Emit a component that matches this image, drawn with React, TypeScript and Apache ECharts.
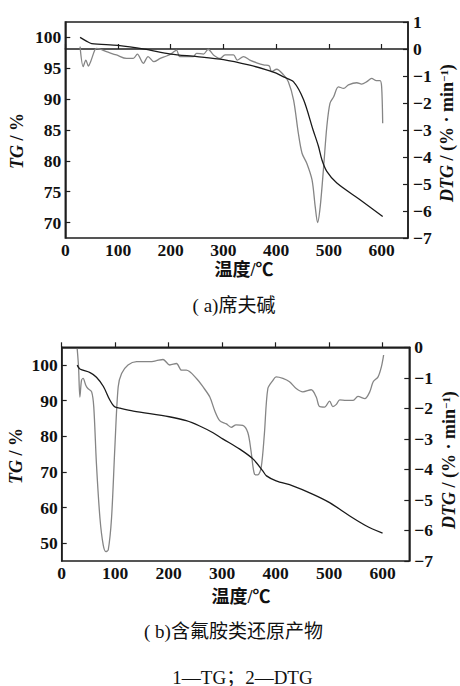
import React, { useEffect, useRef } from "react";
import * as echarts from "echarts";

// ---- Data: (a) 席夫碱 ----
const tgA_T = [28, 40, 50, 100, 150, 200, 250, 300, 350, 380, 400, 414, 433, 452, 470, 480, 487, 496, 515, 559, 602];
const tgA_V = [100, 99.4, 99.0, 98.7, 98.1, 97.3, 96.9, 96.4, 95.5, 94.8, 94.2, 93.6, 92.8, 89.9, 85.0, 82.4, 80.1, 78.3, 76.4, 73.7, 71.0];

const dtgA_T = [28, 34, 39, 43.7, 48, 56, 59.5, 78, 97, 116, 129, 136.6, 148, 157, 168, 180, 192, 202, 211, 217, 230, 243, 249, 262, 271, 281, 293.5, 303, 319, 326, 338, 350, 363, 376, 387, 391, 401, 414, 423, 433, 442, 449, 458, 468, 474, 478.5, 483.5, 490, 496, 502, 509, 518, 528, 537, 553, 562, 572, 581, 590, 597, 600, 602];
const dtgA_V = [0.09, -0.65, -0.41, -0.63, -0.47, -0.04, 0.02, -0.1, -0.22, -0.35, -0.35, -0.19, -0.53, -0.28, -0.47, -0.35, -0.26, -0.16, -0.04, -0.28, -0.28, -0.28, -0.16, -0.19, -0.01, -0.22, -0.35, -0.22, -0.22, -0.41, -0.28, -0.41, -0.51, -0.59, -0.63, -0.84, -0.75, -0.96, -1.21, -1.89, -3.12, -3.86, -4.23, -4.85, -5.84, -6.43, -5.84, -4.36, -2.88, -2.01, -1.77, -1.40, -1.46, -1.33, -1.25, -1.30, -1.21, -1.09, -1.17, -1.17, -1.40, -2.75];

// ---- Data: (b) 含氟胺类还原产物 ----
const tgB_T = [29, 34, 53, 65, 78, 90, 99, 109, 134, 201, 233, 258, 283, 301, 333, 358, 376, 383, 401, 432, 469, 501, 538, 569, 600];
const tgB_V = [100, 98.9, 97.9, 96.6, 94.0, 90.2, 88.3, 87.9, 87.1, 85.5, 84.4, 82.9, 81.0, 79.3, 76.4, 73.6, 70.3, 68.9, 67.5, 66.1, 63.8, 61.4, 57.7, 54.9, 52.8];

const dtgB_T = [29, 31.5, 34, 37, 40, 45, 49, 56, 60, 65, 71.5, 77.6, 82.6, 87, 93.2, 99.4, 105.6, 112, 124, 140, 165, 177, 189.6, 202, 214.6, 224, 233, 252, 264.4, 277, 286, 295.4, 308, 317, 326, 338.5, 348, 354, 360.6, 366.5, 373, 379, 385.5, 395, 401, 413.6, 426, 438.5, 451, 466.6, 476, 482, 491.5, 501, 507, 513.6, 520, 532, 545, 554, 567, 576, 582.5, 591.6, 597.8, 602];
const dtgB_V = [-0.05, -0.64, -1.63, -1.08, -1.02, -1.24, -1.35, -1.46, -1.96, -3.83, -5.59, -6.47, -6.69, -6.64, -5.59, -3.28, -1.30, -0.86, -0.58, -0.47, -0.47, -0.44, -0.40, -0.58, -0.53, -0.75, -0.75, -1.02, -1.30, -1.63, -2.07, -2.40, -2.51, -2.62, -2.54, -2.56, -2.79, -3.39, -4.16, -4.18, -3.94, -2.84, -1.35, -1.08, -0.97, -1.02, -1.13, -1.35, -1.46, -1.39, -1.63, -1.94, -1.96, -1.76, -1.94, -1.87, -1.72, -1.74, -1.74, -1.61, -1.68, -1.46, -1.13, -0.97, -0.64, -0.25];

// ---- Tick labels ----
const xTicks = [0, 100, 200, 300, 400, 500, 600];
const tgTicksA = [70, 75, 80, 85, 90, 95, 100];
const tgTicksB = [50, 60, 70, 80, 90, 100];

const captionA = "( a)席夫碱";
const captionB = "( b)含氟胺类还原产物";
const legendText = "1—TG；2—DTG";
const xName = "温度/℃";

const SERIF = "Liberation Serif, serif";
const MIXED = "Liberation Serif, Noto Sans CJK SC, serif";
const AX = "#1e1e1e";

const zip = (t: number[], v: number[]) => t.map((x, i) => [x, v[i]]);
const minusFmt = (v: number) => (v < 0 ? "\u2212" + Math.abs(v) : String(v));

const labelStyle = { color: "#111", fontSize: 17.5, fontWeight: "bold", fontFamily: SERIF };

function xAxisDef(gridIndex: number) {
  return {
    type: "value",
    gridIndex,
    min: 0,
    max: 650,
    axisLine: { show: true, lineStyle: { color: AX, width: 1.5 } },
    axisTick: { show: true, inside: true, length: 5, customValues: xTicks, lineStyle: { color: AX, width: 1.2 } },
    axisLabel: { ...labelStyle, customValues: xTicks, margin: 3 },
    splitLine: { show: false },
  };
}

function leftAxisDef(gridIndex: number, min: number, max: number, ticks: number[]) {
  return {
    type: "value",
    gridIndex,
    position: "left",
    min,
    max,
    axisLine: { show: true, lineStyle: { color: AX, width: 1.5 } },
    axisTick: { show: true, inside: true, length: 5, customValues: ticks, lineStyle: { color: AX, width: 1.2 } },
    axisLabel: { ...labelStyle, customValues: ticks, margin: 4 },
    splitLine: { show: false },
  };
}

function rightAxisDef(gridIndex: number, min: number, max: number) {
  return {
    type: "value",
    gridIndex,
    position: "right",
    min,
    max,
    interval: 1,
    axisLine: { show: true, lineStyle: { color: AX, width: 1.5 } },
    axisTick: { show: true, inside: true, length: 5, lineStyle: { color: AX, width: 1.2 } },
    axisLabel: { ...labelStyle, margin: 5, formatter: minusFmt },
    splitLine: { show: false },
  };
}

const richBase = {
  i: { fontStyle: "italic", fontWeight: "bold", fontFamily: SERIF, fontSize: 18, fill: "#111", lineHeight: 18 },
  n: { fontWeight: "bold", fontFamily: SERIF, fontSize: 18, fill: "#111", lineHeight: 18 },
  s: { fontWeight: "bold", fontFamily: SERIF, fontSize: 11, fill: "#111", lineHeight: 18, verticalAlign: "top", padding: [0, 0, 7, 0] },
};

function vText(x: number, y: number, text: string) {
  return {
    type: "text",
    x,
    y,
    rotation: Math.PI / 2,
    style: { text, rich: richBase, align: "center", verticalAlign: "middle", fill: "#111" },
  };
}

function hText(x: number, y: number, text: string, size: number, bold = false) {
  return {
    type: "text",
    x,
    y,
    style: {
      text,
      fill: "#111",
      fontSize: size,
      fontWeight: bold ? "bold" : "normal",
      fontFamily: MIXED,
      align: "center",
      verticalAlign: "middle",
    },
  };
}

export default function App() {
  const ref = useRef<HTMLDivElement>(null);
  useEffect(() => {
    if (!ref.current) return;
    const chart = echarts.init(ref.current, null, { renderer: "svg" });
    chart.setOption({
      animation: false,
      backgroundColor: "#ffffff",
      grid: [
        { left: 65.3, top: 22, width: 342.7, height: 216, show: true, borderColor: AX, borderWidth: 1.5, backgroundColor: "transparent" },
        { left: 61.7, top: 347.3, width: 347.6, height: 213.7, show: true, borderColor: AX, borderWidth: 1.5, backgroundColor: "transparent" },
      ],
      xAxis: [xAxisDef(0), xAxisDef(1)],
      yAxis: [
        leftAxisDef(0, 67.5, 102.5, tgTicksA),
        rightAxisDef(0, -7, 1),
        leftAxisDef(1, 45, 105, tgTicksB),
        rightAxisDef(1, -7, 0),
      ],
      series: [
        { type: "line", xAxisIndex: 0, yAxisIndex: 0, data: zip(tgA_T, tgA_V), smooth: 0.3, symbol: "none", lineStyle: { color: "#1a1a1a", width: 1.3 }, z: 3 },
        { type: "line", xAxisIndex: 0, yAxisIndex: 1, data: zip(dtgA_T, dtgA_V), smooth: 0.3, symbol: "none", lineStyle: { color: "#858585", width: 1.3 }, z: 2 },
        { type: "line", xAxisIndex: 1, yAxisIndex: 2, data: zip(tgB_T, tgB_V), smooth: 0.3, symbol: "none", lineStyle: { color: "#1a1a1a", width: 1.3 }, z: 3 },
        { type: "line", xAxisIndex: 1, yAxisIndex: 3, data: zip(dtgB_T, dtgB_V), smooth: 0.3, symbol: "none", lineStyle: { color: "#858585", width: 1.3 }, z: 2 },
      ],
      graphic: [
        vText(17, 141, "{i|TG}{n| / %}"),
        vText(447, 133, "{i|DTG}{n| / (% · min}{s|\u22121}{n|)}"),
        vText(16, 456, "{i|TG}{n| / %}"),
        vText(449, 460, "{i|DTG}{n| / (% · min}{s|\u22121}{n|)}"),
        hText(244, 270, xName, 18, true),
        hText(241, 597, xName, 18, true),
        hText(234, 305, captionA, 19),
        hText(233.5, 631, captionB, 19),
        hText(242.5, 677, legendText, 19),
      ],
    });
    return () => chart.dispose();
  }, []);
  return <div ref={ref} style={{ position: "fixed", left: 0, top: 0, width: 460, height: 686 }} />;
}
